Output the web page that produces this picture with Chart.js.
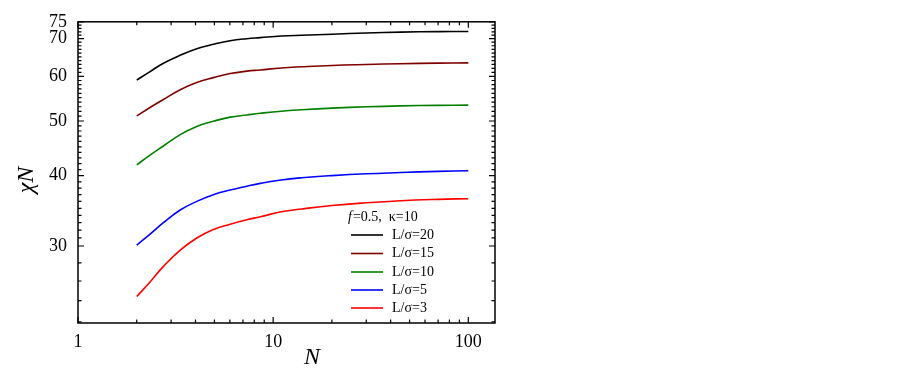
<!DOCTYPE html>
<html>
<head>
<meta charset="utf-8">
<script src="https://cdn.jsdelivr.net/npm/chart.js@4.4.1/dist/chart.umd.min.js"></script>
<style>
  html, body { margin: 0; padding: 0; background: #fff; }
  #wrap { width: 903px; height: 375px; }
</style>
</head>
<body>
<div id="wrap"><canvas id="chiChart" width="903" height="375"></canvas></div>
<script>
// chain length N (x) and chi*N values
var nVals = [2, 2.34, 2.74, 3.34, 4.06, 4.94, 6.02, 7.33, 8.58, 11, 14, 20, 30, 45, 70, 100];
var chiL20 = [59.1, 61.2, 63.3, 65.4, 67.2, 68.4, 69.4, 70.0, 70.3, 70.75, 71.0, 71.3, 71.65, 71.9, 72.05, 72.1];
var chiL15 = [51.05, 52.85, 54.6, 56.8, 58.5, 59.7, 60.7, 61.3, 61.6, 62.1, 62.4, 62.75, 63.0, 63.2, 63.35, 63.4];
var chiL10 = [41.8, 43.5, 45.15, 47.3, 48.9, 49.95, 50.8, 51.25, 51.6, 52.05, 52.35, 52.7, 53.0, 53.2, 53.3, 53.35];
var chiL5 = [30.1, 31.5, 33.0, 34.75, 36.0, 37.0, 37.7, 38.3, 38.75, 39.3, 39.65, 40.0, 40.3, 40.5, 40.7, 40.8];
var chiL3 = [24.4, 25.9, 27.6, 29.5, 31.0, 32.1, 32.8, 33.4, 33.8, 34.5, 34.9, 35.4, 35.8, 36.1, 36.3, 36.4];

var seriesLabels = ['L/σ=20', 'L/σ=15', 'L/σ=10', 'L/σ=5', 'L/σ=3'];
var seriesColors = ['#000000', '#800000', '#008000', '#0000ff', '#ff0000'];
var seriesData = [chiL20, chiL15, chiL10, chiL5, chiL3];

var xMajor = [1, 10, 100];
var xMinor = [2, 3, 4, 5, 6, 7, 8, 9, 20, 30, 40, 50, 60, 70, 80, 90];
var yMajor = [30, 40, 50, 60, 70, 75];
var yMinor = [22, 24, 26, 28, 31, 32, 33, 34, 35, 36, 37, 38, 39, 41, 42, 43, 44, 45, 46, 47, 48, 49,
  51, 52, 53, 54, 55, 56, 57, 58, 59, 61, 62, 63, 64, 65, 66, 67, 68, 69, 71, 72, 73, 74];

var SERIF = '"Liberation Serif", "DejaVu Serif", serif';

function pts(arr) {
  return arr.map(function(v, i) { return { x: nVals[i], y: v }; });
}

var datasets = seriesData.map(function(arr, i) {
  return {
    label: seriesLabels[i],
    data: pts(arr),
    borderColor: seriesColors[i],
    backgroundColor: seriesColors[i],
    borderWidth: 1.6,
    pointRadius: 0,
    showLine: true,
    tension: 0.45
  };
});

// frame, inward ticks, titles and the in-plot legend
var framePlugin = {
  id: 'frame',
  afterDraw: function(chart) {
    var ctx = chart.ctx, a = chart.chartArea;
    var xs = chart.scales.x, ys = chart.scales.y;
    ctx.save();
    ctx.strokeStyle = '#000';
    ctx.lineWidth = 1.5;
    ctx.strokeRect(a.left, a.top, a.right - a.left, a.bottom - a.top);

    ctx.lineWidth = 1.2;
    function tickX(v, len) {
      var px = xs.getPixelForValue(v);
      ctx.beginPath();
      ctx.moveTo(px, a.bottom); ctx.lineTo(px, a.bottom - len);
      ctx.moveTo(px, a.top); ctx.lineTo(px, a.top + len);
      ctx.stroke();
    }
    function tickY(v, len) {
      var py = ys.getPixelForValue(v);
      ctx.beginPath();
      ctx.moveTo(a.left, py); ctx.lineTo(a.left + len, py);
      ctx.moveTo(a.right, py); ctx.lineTo(a.right - len, py);
      ctx.stroke();
    }
    xMajor.forEach(function(v) { tickX(v, 6); });
    xMinor.forEach(function(v) { tickX(v, 3.5); });
    yMajor.forEach(function(v) { tickY(v, 6); });
    yMinor.forEach(function(v) { tickY(v, 3.5); });

    // axis titles
    ctx.fillStyle = '#000';
    ctx.textAlign = 'center';
    ctx.textBaseline = 'middle';
    ctx.font = 'italic 24px ' + SERIF;
    ctx.fillText('N', 312, 358);
    ctx.save();
    ctx.translate(27, 180);
    ctx.rotate(-Math.PI / 2);
    ctx.fillText('χN', 0, 0);
    ctx.restore();

    // legend
    ctx.textAlign = 'left';
    ctx.font = 'italic 14px ' + SERIF;
    ctx.fillText('f', 348, 217);
    var fw = ctx.measureText('f').width;
    ctx.font = '14px ' + SERIF;
    ctx.fillText('=0.5,  κ=10', 348 + fw + 1, 217);
    var rowY = [235, 253.5, 272, 290, 308];
    seriesLabels.forEach(function(lab, i) {
      ctx.strokeStyle = seriesColors[i];
      ctx.lineWidth = 1.6;
      ctx.beginPath();
      ctx.moveTo(351, rowY[i]); ctx.lineTo(383, rowY[i]);
      ctx.stroke();
      ctx.fillStyle = '#000';
      ctx.fillText(lab, 392, rowY[i]);
    });
    ctx.restore();
  }
};

new Chart(document.getElementById('chiChart').getContext('2d'), {
  type: 'scatter',
  data: { datasets: datasets },
  options: {
    responsive: false,
    animation: false,
    layout: { padding: { left: 0, right: 408, top: 14, bottom: 0 } },
    plugins: { legend: { display: false }, tooltip: { enabled: false } },
    scales: {
      x: {
        type: 'logarithmic',
        min: 1,
        max: 137,
        afterBuildTicks: function(s) { s.ticks = xMajor.map(function(v) { return { value: v }; }); },
        afterFit: function(s) { s.height = 52; },
        grid: { display: false, drawTicks: false },
        border: { display: false },
        ticks: {
          padding: 8,
          color: '#000',
          maxRotation: 0,
          font: { family: SERIF, size: 18 },
          callback: function(v) { return String(v); }
        }
      },
      y: {
        type: 'logarithmic',
        min: 21.9,
        max: 75,
        afterBuildTicks: function(s) { s.ticks = yMajor.map(function(v) { return { value: v }; }); },
        afterFit: function(s) { s.width = 78; },
        grid: { display: false, drawTicks: false },
        border: { display: false },
        ticks: {
          padding: 11,
          color: '#000',
          font: { family: SERIF, size: 18 },
          callback: function(v) { return String(v); }
        }
      }
    }
  },
  plugins: [framePlugin]
});
</script>
</body>
</html>
